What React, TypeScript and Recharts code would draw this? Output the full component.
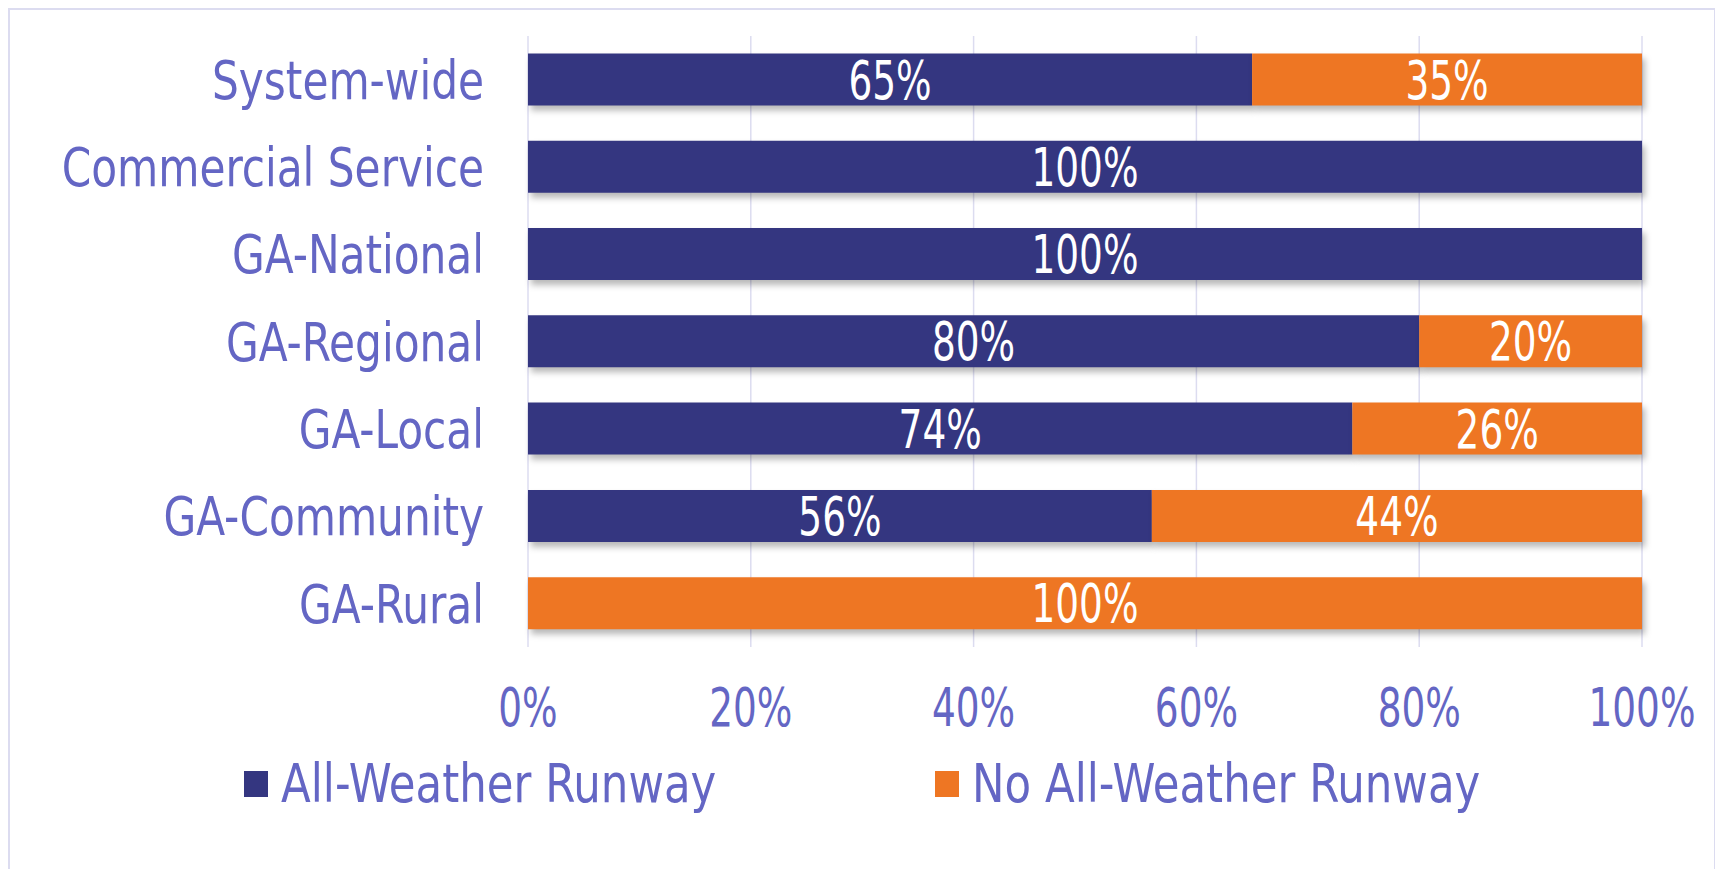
import React from "react"
import { BarChart, Bar, XAxis, YAxis, CartesianGrid, Legend, LabelList, Rectangle } from "recharts"

const categories = [
  "System-wide",
  "Commercial Service",
  "GA-National",
  "GA-Regional",
  "GA-Local",
  "GA-Community",
  "GA-Rural",
]
const allWeather = [65, 100, 100, 80, 74, 56, 0]
const noAllWeather = [35, 0, 0, 20, 26, 44, 100]
const xTicks = [0, 20, 40, 60, 80, 100]

const NAVY = "#343680"
const ORANGE = "#ee7623"
const TEXT = "#6466c4"
const GRID = "#dcdcf0"
const FONT = "'DejaVu Sans Condensed', 'Liberation Sans Narrow', sans-serif"
const FS = 54
// the original face is narrower than anything installed, so squeeze horizontally
const WORD_SX = 0.87
const LEGEND_SX = 0.895
const NUM_SX = 0.77

const data = categories.map((name, i) => ({
  name,
  aw: allWeather[i],
  naw: noAllWeather[i],
}))

const ShadowBar = (props: any) => {
  if (!props.width) return null
  return <Rectangle {...props} style={{ filter: "drop-shadow(3px 5px 3px rgba(0,0,0,0.28))" }} />
}

const CategoryTick = ({ x, y, payload }: any) => (
  <text
    transform={`translate(${x},${y}) scale(${WORD_SX},1)`}
    textAnchor="end"
    dy="0.355em"
    fill={TEXT}
    fontSize={FS}
    fontFamily={FONT}
  >
    {payload.value}
  </text>
)

const PercentTick = ({ x, y, payload }: any) => (
  <text
    transform={`translate(${x},${y}) scale(${NUM_SX},1)`}
    textAnchor="middle"
    dy="0.71em"
    fill={TEXT}
    fontSize={FS}
    fontFamily={FONT}
  >
    {`${payload.value}%`}
  </text>
)

const BarValue = (props: any) => {
  const { x, y, width, height, value } = props
  if (!value) return null
  return (
    <text
      transform={`translate(${x + width / 2},${y + height / 2}) scale(${NUM_SX},1)`}
      textAnchor="middle"
      dy="0.355em"
      fill="#fff"
      fontSize={FS}
      fontFamily={FONT}
    >
      {`${value}%`}
    </text>
  )
}

const legendWidths: Record<string, number> = {
  "All-Weather Runway": 435,
  "No All-Weather Runway": 508,
}

const LegendContent = ({ payload }: any) => (
  <div style={{ display: "flex", justifyContent: "center", gap: 219, fontFamily: FONT, fontSize: FS, color: TEXT }}>
    {(payload || []).map((p: any) => (
      <div key={p.value} style={{ display: "flex", alignItems: "center", gap: 13 }}>
        <span style={{ width: 24, height: 26, background: p.color, display: "inline-block" }} />
        <span style={{ display: "inline-block", width: legendWidths[p.value], lineHeight: "60px", whiteSpace: "nowrap" }}>
          <span style={{ display: "inline-block", transform: `scaleX(${LEGEND_SX})`, transformOrigin: "left center" }}>
            {p.value}
          </span>
        </span>
      </div>
    ))}
  </div>
)

export default function App() {
  return (
    <div
      style={{
        width: 1704,
        height: 859,
        borderTop: `2px solid ${GRID}`,
        borderLeft: `2px solid ${GRID}`,
        borderRight: `2px solid ${GRID}`,
        background: "#fff",
        fontFamily: FONT,
      }}
    >
      <BarChart
        width={1704}
        height={857}
        data={data}
        layout="vertical"
        barCategoryGap="20%"
        margin={{ top: 26, right: 72, left: 0, bottom: 120 }}
      >
        <CartesianGrid horizontal={false} stroke={GRID} strokeWidth={1.5} />
        <XAxis
          type="number"
          domain={[0, 100]}
          ticks={xTicks}
          axisLine={false}
          tickLine={false}
          tickSize={0}
          tickMargin={41}
          height={100}
          interval={0}
          tick={<PercentTick />}
        />
        <YAxis
          type="category"
          dataKey="name"
          width={518}
          axisLine={false}
          tickLine={false}
          tickSize={0}
          tickMargin={44}
          interval={0}
          tick={<CategoryTick />}
        />
        <Legend
          verticalAlign="middle"
          align="center"
          wrapperStyle={{ top: 744, left: 0, width: 1704, height: 60 }}
          content={<LegendContent />}
        />
        <Bar dataKey="aw" name="All-Weather Runway" stackId="s" fill={NAVY} shape={<ShadowBar />} isAnimationActive={false}>
          <LabelList dataKey="aw" content={<BarValue />} />
        </Bar>
        <Bar dataKey="naw" name="No All-Weather Runway" stackId="s" fill={ORANGE} shape={<ShadowBar />} isAnimationActive={false}>
          <LabelList dataKey="naw" content={<BarValue />} />
        </Bar>
      </BarChart>
    </div>
  )
}
